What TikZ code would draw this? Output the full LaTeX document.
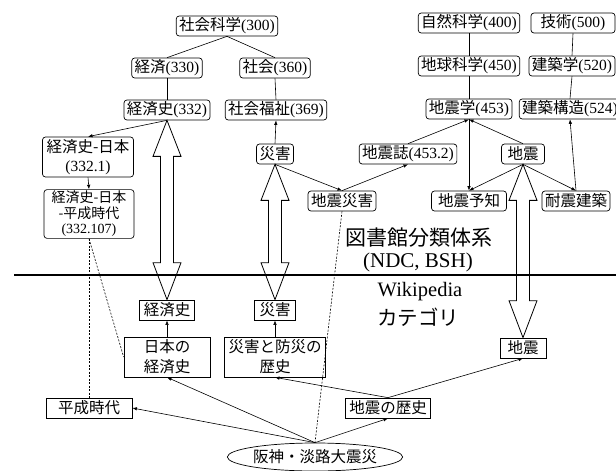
\documentclass[tikz,border=0pt]{standalone}
\usepackage{fontspec}
\setmainfont{Noto Sans CJK JP}
\newfontfamily\tm{Liberation Serif}
\usetikzlibrary{arrows.meta,shapes.geometric,calc}
\newcommand\cnum[1]{{\tm(#1)}}
\newcommand\hollowarrow[2]{%
  \draw[line width=0.8pt] let \p1=(#1.south), \p2=(#2.north) in
    (\x1,\y1) -- ({\x1+14pt},{\y1-36pt}) -- ({\x1+6.5pt},{\y1-36pt})
    -- ({\x2+6.5pt},{\y2+37pt}) -- ({\x2+14pt},{\y2+37pt}) -- (\x2,\y2)
    -- ({\x2-14pt},{\y2+37pt}) -- ({\x2-6.5pt},{\y2+37pt})
    -- ({\x1-6.5pt},{\y1-36pt}) -- ({\x1-14pt},{\y1-36pt}) -- cycle;}
\begin{document}
\begin{tikzpicture}[x=1pt,y=-1pt,
  every node/.style={font=\fontsize{15.5}{19}\selectfont, inner sep=0pt},
  nb/.style={draw, rounded corners=3pt, line width=0.7pt, inner xsep=3pt, inner ysep=1.5pt, minimum height=20pt},
  wb/.style={draw, line width=0.7pt, inner xsep=4pt, inner ysep=1.5pt, minimum height=20pt},
  ln/.style={line width=0.6pt},
  ar/.style={line width=0.6pt, -{Latex[length=4.5pt,width=3.5pt]}},
  dsh/.style={line width=0.6pt, dash pattern=on 2pt off 1.5pt}]
\useasboundingbox (0,0) rectangle (616,471);

% NDC / BSH nodes
\node[nb] (ss) at (227,26) {社会科学\cnum{300}};
\node[nb] (keizai) at (167,68) {経済\cnum{330}};
\node[nb] (shakai) at (275,68) {社会\cnum{360}};
\node[nb] (keizaishi) at (167,110) {経済史\cnum{332}};
\node[nb] (fukushi) at (276,110) {社会福祉\cnum{369}};
\node[nb, align=center, minimum width=91pt, minimum height=40pt] (kjp) at (88,157) {経済史-日本\\\cnum{332.1}};
\node[nb, align=center, minimum width=90pt, minimum height=48pt, font=\fontsize{14}{15.5}\selectfont] (kjph) at (89,214) {経済史-日本\\-平成時代\\\cnum{332.107}};
\node[nb] (saigai) at (275,154) {災害};
\node[nb] (shizen) at (469,23) {自然科学\cnum{400}};
\node[nb, minimum width=84pt] (gijutsu) at (573,23) {技術\cnum{500}};
\node[nb] (chikyu) at (469,66) {地球科学\cnum{450}};
\node[nb] (kengaku) at (572,66) {建築学\cnum{520}};
\node[nb] (jgaku) at (469,109) {地震学\cnum{453}};
\node[nb] (kozo) at (570,109) {建築構造\cnum{524}};
\node[nb] (jshi) at (408,154) {地震誌\cnum{453.2}};
\node[nb, minimum width=43pt] (jishinN) at (523,154) {地震};
\node[nb] (jsaigai) at (342,201) {地震災害};
\node[nb, minimum width=75pt] (yochi) at (469,201) {地震予知};
\node[nb] (taishin) at (576,201) {耐震建築};

% labels
\node[font=\fontsize{21}{24}\selectfont] (lib) at (419,238) {図書館分類体系};
\node[font=\tm\fontsize{21}{24}\selectfont] (ndc) at (418,262) {(NDC, BSH)};
\node[font=\tm\fontsize{20.5}{24}\selectfont] (wp) at (420,292) {Wikipedia};
\node[font=\fontsize{20.5}{24}\selectfont] (cat) at (418,317) {カテゴリ};

% Wikipedia nodes
\node[wb, minimum width=53pt] (wkeizaishi) at (167,310) {経済史};
\node[wb, minimum width=41pt] (wsaigai) at (275,310) {災害};
\node[wb, align=center, minimum width=86pt, minimum height=40pt, font=\fontsize{15.5}{20}\selectfont] (nihon) at (167,357) {日本の\\経済史};
\node[wb, align=center, minimum width=97pt, minimum height=40pt, font=\fontsize{15.5}{20}\selectfont] (bousai) at (275,357) {災害と防災の\\歴史};
\node[wb, minimum width=86pt] (heisei) at (89,408) {平成時代};
\node[wb, minimum width=85pt] (jrekishi) at (388,408) {地震の歴史};
\node[wb, minimum width=46pt] (wjishin) at (523,348) {地震};
\node[draw, ellipse, line width=0.7pt, minimum width=146pt, minimum height=28pt, inner sep=0pt] (hanshin) at (315,457) {阪神・淡路大震災};

% divider
\coordinate (divL) at (14,275);
\coordinate (divR) at (616,275);
\draw[line width=1.5pt] (divL) -- (divR);

% hollow arrows
\hollowarrow{keizaishi}{wkeizaishi}
\hollowarrow{saigai}{wsaigai}
\hollowarrow{jishinN}{wjishin}

% NDC lines
\draw[ln] (ss.south) -- (keizai.north);
\draw[ln] (ss.south) -- (shakai.north);
\draw[ln] (keizai.south) -- (keizaishi.north);
\draw[ln] (shakai.south) -- (fukushi.north);
\draw[ln] (shizen.south) -- (chikyu.north);
\draw[ln] (chikyu.south) -- (jgaku.north);
\draw[ln] (gijutsu.south) -- (kengaku.north);
\draw[ln] (kengaku.south) -- (kozo.north);
\draw[ar] (keizaishi.south) -- (kjp.north);
\draw[ar] (kjp.south) -- (kjph.north);
\draw[ar] (saigai.north) -- (fukushi.south);
\draw[ar] (saigai.south) -- (jsaigai.north);
\draw[ar] (jsaigai.north) -- (jshi.south);
\draw[ar] (jshi.north) -- (jgaku.south);
\draw[ar] (jishinN.north) -- (jgaku.south);
\draw[ar] (jgaku.south) -- (yochi.north);
\draw[ar] (jishinN.south) -- (yochi.north);
\draw[ar] (jishinN.south) -- (taishin.north);
\draw[ar] (taishin.north) -- (kozo.south);

% Wikipedia lines
\draw[ar] (nihon.north) -- (wkeizaishi.south);
\draw[ar] (bousai.north) -- (wsaigai.south);
\draw[ar] (hanshin.north) -- (nihon.south);
\draw[ar] (hanshin.north) -- (heisei.east);
\draw[ar] (hanshin.north) -- (jrekishi.south);
\draw[ar] (jrekishi.north) -- (bousai.south);
\draw[ar] (jrekishi.north) -- (wjishin.south);

% dashed
\draw[dsh] (kjph.south) -- (heisei.north);
\draw[dsh] (kjph.south) -- (nihon.west);
\draw[dsh] (jsaigai.south) -- (hanshin.north);
\end{tikzpicture}
\end{document}
